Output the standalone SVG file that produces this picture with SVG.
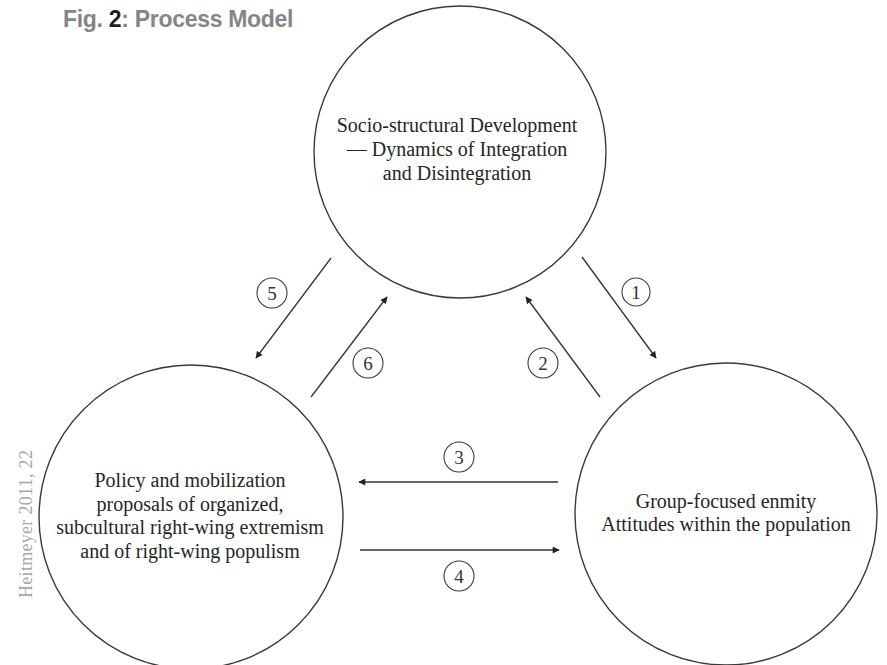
<svg xmlns="http://www.w3.org/2000/svg" width="887" height="665" viewBox="0 0 887 665">
  <style>
    .bg { fill: #ffffff; }
    .node { fill: none; stroke: #3a3a3a; stroke-width: 1.4; }
    .label { font-family: "Liberation Serif", "Times New Roman", serif; font-size: 20px; fill: #262626; text-anchor: middle; }
    .edge { stroke: #333333; stroke-width: 1.3; fill: none; marker-end: url(#arrow); }
    .tag circle { fill: #ffffff; stroke: #3a3a3a; stroke-width: 1.1; }
    .tag text { font-family: "Liberation Serif", "Times New Roman", serif; font-size: 19px; fill: #333333; text-anchor: middle; }
    .title { font-family: "Liberation Sans", Arial, sans-serif; font-weight: bold; font-size: 23px; fill: #858585; letter-spacing: -0.3px; }
    .source { font-family: "Liberation Serif", "Times New Roman", serif; font-size: 18px; fill: #a8a8a8; letter-spacing: 0.3px; }
  </style>
  <defs>
    <marker id="arrow" viewBox="0 0 10 10" refX="9" refY="5" markerWidth="8" markerHeight="7" markerUnits="userSpaceOnUse" orient="auto">
      <path d="M0,0 L10,5 L0,10 z" fill="#222222"/>
    </marker>
  </defs>

  <rect class="bg" x="0" y="0" width="887" height="665"/>

  <!-- heading -->
  <text class="title" x="63" y="27">Fig. <tspan fill="#1e1e1e">2</tspan>: Process Model</text>

  <!-- citation along the left margin -->
  <text class="source" transform="translate(32,598) rotate(-90)" x="0" y="0">Heitmeyer 2011, 22</text>

  <!-- nodes -->
  <g id="node-structure">
    <circle class="node" cx="460" cy="152" r="146"/>
    <text class="label" x="457" y="132">Socio-structural Development</text>
    <text class="label" x="457" y="156">— Dynamics of Integration</text>
    <text class="label" x="457" y="180">and Disintegration</text>
  </g>

  <g id="node-policy">
    <circle class="node" cx="191" cy="517" r="152"/>
    <text class="label" x="190" y="487">Policy and mobilization</text>
    <text class="label" x="190" y="510.5">proposals of organized,</text>
    <text class="label" x="190" y="534">subcultural right-wing extremism</text>
    <text class="label" x="190" y="557.5">and of right-wing populism</text>
  </g>

  <g id="node-attitudes">
    <circle class="node" cx="726" cy="514" r="151"/>
    <text class="label" x="726" y="508">Group-focused enmity</text>
    <text class="label" x="726" y="531">Attitudes within the population</text>
  </g>

  <!-- connectors -->
  <g id="connectors">
    <line class="edge" x1="582" y1="257" x2="656" y2="358"/>
    <line class="edge" x1="600" y1="397" x2="526" y2="297"/>
    <line class="edge" x1="558" y1="482" x2="359" y2="482"/>
    <line class="edge" x1="360" y1="550" x2="559" y2="550"/>
    <line class="edge" x1="331" y1="258" x2="256" y2="358"/>
    <line class="edge" x1="311" y1="397" x2="387" y2="297"/>
  </g>

  <!-- step numbers -->
  <g id="tags">
    <g class="tag"><circle cx="636" cy="292" r="14"/><text x="636" y="298.5">1</text></g>
    <g class="tag"><circle cx="543" cy="363" r="15"/><text x="543" y="369.5">2</text></g>
    <g class="tag"><circle cx="459" cy="457" r="15"/><text x="459" y="463.5">3</text></g>
    <g class="tag"><circle cx="459" cy="576" r="15"/><text x="459" y="582.5">4</text></g>
    <g class="tag"><circle cx="272" cy="293" r="15"/><text x="272" y="299.5">5</text></g>
    <g class="tag"><circle cx="368" cy="363" r="15"/><text x="368" y="369.5">6</text></g>
  </g>
</svg>
